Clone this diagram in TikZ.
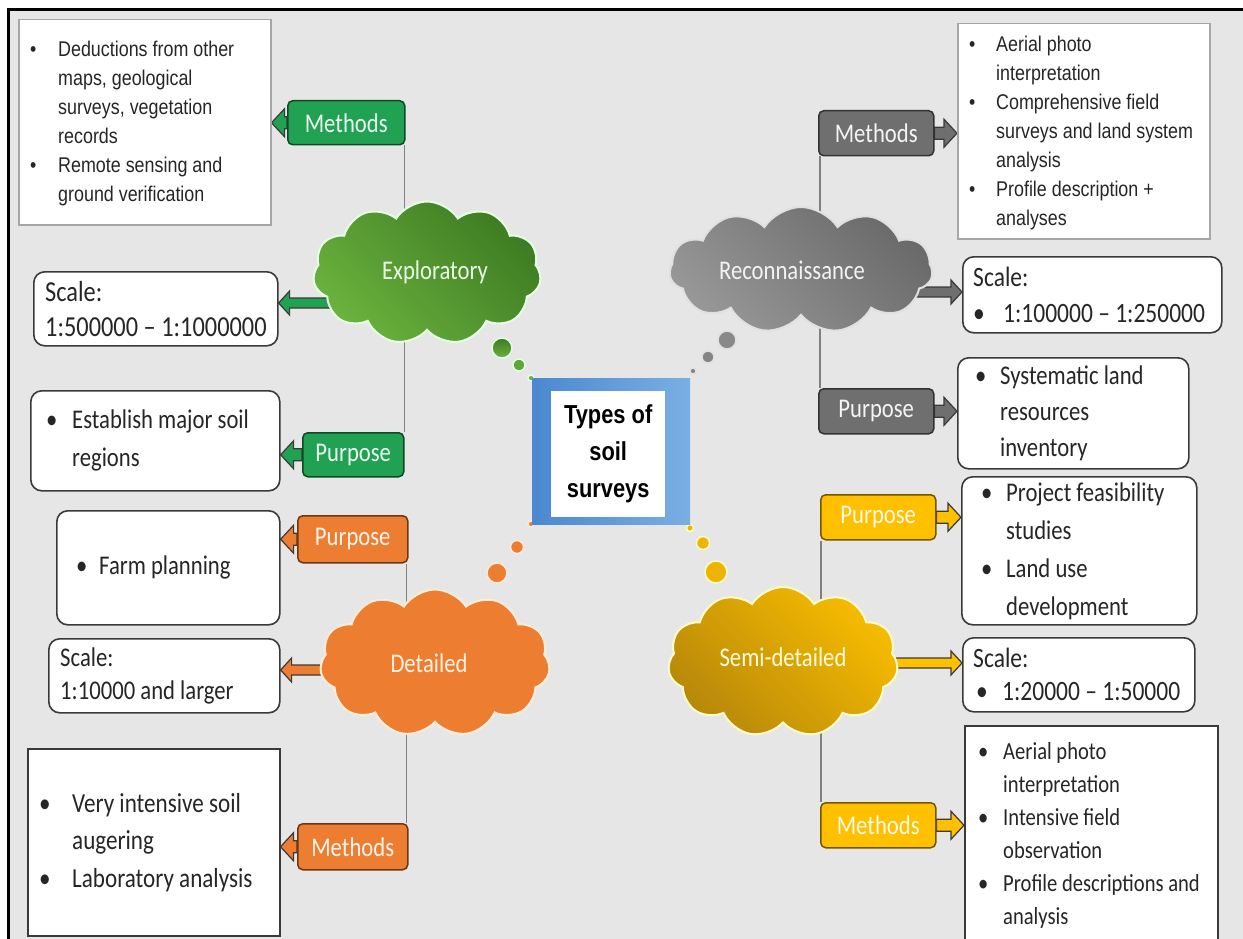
\documentclass[tikz,border=0pt]{standalone}
\usepackage{fontspec}
\setmainfont{Carlito}[FakeStretch=0.84]
\newfontfamily\arialf{Liberation Sans}[FakeStretch=0.84]
\usetikzlibrary{shapes.symbols,calc}
\pgfdeclarelayer{back}\pgfdeclarelayer{mid}\pgfsetlayers{back,mid,main}
\definecolor{bgc}{HTML}{E7E6E6}
\definecolor{gL}{HTML}{21A152}
\definecolor{gC1}{HTML}{3E7B22}
\definecolor{gC2}{HTML}{6AB23E}
\definecolor{grL}{HTML}{6F6F6F}
\definecolor{grC1}{HTML}{6A6A6A}
\definecolor{grC2}{HTML}{979797}
\definecolor{oL}{HTML}{ED7D31}
\definecolor{yL}{HTML}{FFC000}
\definecolor{yC1}{HTML}{F7BC00}
\definecolor{yC2}{HTML}{B8880A}
\definecolor{bl1}{HTML}{4A88CF}
\definecolor{bl2}{HTML}{7AAFE3}
\definecolor{lineg}{HTML}{808080}
\definecolor{bdr}{HTML}{3A3A3A}
\definecolor{sqg}{HTML}{A6A6A6}
\tikzset{
 rbox/.style={draw=bdr, line width=1.6pt, fill=white, rounded corners=11pt, anchor=north west, inner sep=0pt},
 sbox/.style={draw=#1, line width=1.5pt, fill=white, anchor=north west, inner sep=0pt},
 lbl/.style={draw=#1!45!black, fill=#1, line width=1.5pt, rounded corners=5pt, anchor=north west, inner sep=0pt, text=white!92!#1, font=\fontsize{27}{30}\selectfont},
 cld/.style={cloud, cloud puffs=11, cloud puff arc=115, cloud ignores aspect, draw=#1, line width=2pt, inner sep=0pt},
 bub/.style={draw=#1, line width=1.5pt},
 ctext/.style={font=\fontsize{27}{30}\selectfont, text=#1, inner sep=0pt},
 btext/.style={anchor=west, align=left, inner sep=0pt, text=black!85},
 vline/.style={draw=lineg, line width=1.3pt},
 arr/.style={draw=bdr, line width=1.2pt},
}
% left / right block arrows: start, target, colour, shaft half, head half, head length
\newcommand\larrow[6]{\draw[arr, fill=#3] let \p1=(#1), \p2=(#2) in
 (\x1,\y1+#4) -- (\x2+#6,\y1+#4) -- (\x2+#6,\y1+#5) -- (\x2,\y1) -- (\x2+#6,\y1-#5) -- (\x2+#6,\y1-#4) -- (\x1,\y1-#4) -- cycle;}
\newcommand\rarrow[6]{\draw[arr, fill=#3] let \p1=(#1), \p2=(#2) in
 (\x1,\y1+#4) -- (\x2-#6,\y1+#4) -- (\x2-#6,\y1+#5) -- (\x2,\y1) -- (\x2-#6,\y1-#5) -- (\x2-#6,\y1-#4) -- (\x1,\y1-#4) -- cycle;}
\newcommand\bl[1]{\makebox[#1][l]{•}}
\begin{document}
\begin{tikzpicture}[x=1pt,y=-1pt]
\useasboundingbox (0,0) rectangle (1243,939);
\begin{pgfonlayer}{back}
\fill[white] (0,0) rectangle (1243,939);
\fill[bgc] (8.5,9.5) rectangle (1243,939);
\draw[black, line width=3pt] (8.5,939) -- (8.5,9.5) -- (1243,9.5);
\end{pgfonlayer}

% ---------- boxes ----------
\node[sbox=sqg, minimum width=252pt, minimum height=205pt] (expM) at (18,19) {};
\node[btext, font=\arialf\fontsize{21.3}{29}\selectfont] (expMt) at ([xshift=12pt,yshift=-1.5pt]expM.west)
 {\bl{28pt}Deductions from other\\\hspace*{28pt}maps, geological\\\hspace*{28pt}surveys, vegetation\\\hspace*{28pt}records\\\bl{28pt}Remote sensing and\\\hspace*{28pt}ground verification};
\node[rbox, minimum width=244pt, minimum height=74pt] (expS) at (33,271) {};
\node[btext, font=\fontsize{29}{35}\selectfont] (expSt) at ([xshift=12pt]expS.west)
 {Scale:\\1:500000 – 1:1000000};
\node[rbox, minimum width=249pt, minimum height=100pt] (expP) at (30,390) {};
\node[btext, font=\fontsize{27}{38}\selectfont] (expPt) at ([xshift=16pt]expP.west)
 {\bl{26pt}Establish major soil\\\hspace*{26pt}regions};
\node[rbox, minimum width=223pt, minimum height=114pt] (detP) at (56,510) {};
\node[btext, font=\fontsize{27}{38}\selectfont] (detPt) at ([xshift=20pt]detP.west)
 {\bl{23pt}Farm planning};
\node[rbox, minimum width=231pt, minimum height=74pt] (detS) at (48,638) {};
\node[btext, font=\fontsize{27}{33}\selectfont] (detSt) at ([xshift=12pt]detS.west)
 {Scale:\\1:10000 and larger};
\node[sbox=bdr, minimum width=252pt, minimum height=187pt] (detM) at (27,748) {};
\node[btext, font=\fontsize{27.5}{37.5}\selectfont] (detMt) at ([xshift=12pt]detM.west)
 {\bl{33pt}Very intensive soil\\\hspace*{33pt}augering\\\bl{33pt}Laboratory analysis};

\node[sbox=sqg, minimum width=252pt, minimum height=215pt] (recM) at (957,23) {};
\node[btext, font=\arialf\fontsize{21.3}{29}\selectfont] (recMt) at ([xshift=12pt,yshift=-2pt]recM.west)
 {\bl{27pt}Aerial photo\\\hspace*{27pt}interpretation\\\bl{27pt}Comprehensive field\\\hspace*{27pt}surveys and land system\\\hspace*{27pt}analysis\\\bl{27pt}Profile description +\\\hspace*{27pt}analyses};
\node[rbox, minimum width=259pt, minimum height=76pt] (recS) at (962,256) {};
\node[btext, font=\fontsize{28}{36}\selectfont] (recSt) at ([xshift=11pt]recS.west)
 {Scale:\\\bl{30pt}1:100000 – 1:250000};
\node[rbox, minimum width=231pt, minimum height=111pt] (recP) at (957,357) {};
\node[btext, font=\fontsize{27}{36}\selectfont] (recPt) at ([xshift=18pt]recP.west)
 {\bl{25pt}Systematic land\\\hspace*{25pt}resources\\\hspace*{25pt}inventory};
\node[rbox, minimum width=235pt, minimum height=148pt] (semP) at (961,476) {};
\node[btext, font=\fontsize{27}{38}\selectfont] (semPt) at ([xshift=20pt]semP.west)
 {\bl{25pt}Project feasibility\\\hspace*{25pt}studies\\\bl{25pt}Land use\\\hspace*{25pt}development};
\node[rbox, minimum width=232pt, minimum height=74pt] (semS) at (962,637) {};
\node[btext, font=\fontsize{28}{33}\selectfont] (semSt) at ([xshift=11pt]semS.west)
 {Scale:\\\makebox[29pt][l]{\hspace{3pt}•}1:20000 – 1:50000};
\node[sbox=bdr, minimum width=253pt, minimum height=219pt] (semM) at (964,725) {};
\node[btext, font=\fontsize{24.5}{33}\selectfont] (semMt) at ([xshift=14pt]semM.west)
 {\bl{25pt}Aerial photo\\\hspace*{25pt}interpretation\\\bl{25pt}Intensive field\\\hspace*{25pt}observation\\\bl{25pt}Profile descriptions and\\\hspace*{25pt}analysis};

% ---------- labels ----------
\node[lbl=gL, minimum width=117pt, minimum height=44pt] (gM) at (287,100) {Methods};
\node[lbl=gL, minimum width=101pt, minimum height=44pt] (gP) at (302,432) {Purpose};
\node[lbl=oL, minimum width=110pt, minimum height=47pt] (oP) at (297,515) {Purpose};
\node[lbl=oL, minimum width=110pt, minimum height=46pt] (oM) at (297,823) {Methods};
\node[lbl=grL, minimum width=115pt, minimum height=45pt] (rM) at (818,110) {Methods};
\node[lbl=grL, minimum width=115pt, minimum height=45pt] (rP) at (818,388) {Purpose};
\node[lbl=yL, minimum width=115pt, minimum height=45pt] (yP) at (820,494) {Purpose};
\node[lbl=yL, minimum width=115pt, minimum height=45pt] (yM) at (820,802) {Methods};

% ---------- clouds ----------
\node[cld=green!10!white, minimum width=228pt, minimum height=143pt, top color=gC1, bottom color=gC2, shading angle=-45] (exp) at (427,273) {};
\node[ctext=green!8!white] (expT) at (435,272) {Exploratory};
\node[cld=black!12, minimum width=263pt, minimum height=126pt, top color=grC1, bottom color=grC2, shading angle=-45] (rec) at (801,270) {};
\node[ctext=black!5] (recT) at (792,270) {Reconnaissance};
\node[cld=orange!15!white, minimum width=230pt, minimum height=147pt, fill=oL] (det) at (435,663) {};
\node[ctext=orange!10!white] (detT) at (429,663) {Detailed};
\node[cld=yellow!20!white, minimum width=230pt, minimum height=150pt, top color=yC1, bottom color=yC2, shading angle=-45] (sem) at (783,662) {};
\node[ctext=yellow!15!white] (semT) at (783,657) {Semi-detailed};

% thought bubbles
\fill[top color=gC1, bottom color=gC2, bub=green!10!white] (502,348) circle (10);
\fill[gC2!80!gC1, bub=green!10!white] (519,365) circle (6);
\fill[gC2, bub=green!10!white] (531,378) circle (3);
\fill[grC2!70!grC1, bub=black!12] (727,340) circle (9);
\fill[grC2!60!grC1, bub=black!12] (708,357) circle (6);
\fill[grC2!60!grC1, bub=black!12] (693,371) circle (3);
\fill[oL, bub=orange!15!white] (531,524) circle (3);
\fill[oL, bub=orange!15!white] (517,547) circle (6.5);
\fill[oL, bub=orange!15!white] (497,573) circle (10);
\fill[yC1!85!yC2, bub=yellow!20!white] (690,528) circle (3.5);
\fill[yC1!85!yC2, bub=yellow!20!white] (703,543) circle (6.5);
\fill[yC1!85!yC2, bub=yellow!20!white] (716,572) circle (11);

% ---------- centre ----------
\node[left color=bl1, right color=bl2, minimum width=158pt, minimum height=146pt, anchor=north west, inner sep=0pt] (ctr) at (532,378) {};
\node[fill=white, minimum width=114pt, minimum height=126pt, anchor=north west, inner sep=0pt, align=center, font=\arialf\bfseries\fontsize{26}{37}\selectfont] (title) at (551,391) {Types of\\soil\\surveys};

% ---------- connectors ----------
\coordinate (expA) at (420,303);
\coordinate (recA) at (820,292);
\coordinate (detA) at (430,670);
\coordinate (semA) at (790,663);
\begin{pgfonlayer}{mid}
\draw[vline] ([xshift=-1pt]gM.south east) -- ([xshift=-1pt]gM.south east |- gP.north);
\draw[vline] ([xshift=-2pt]oP.south east) -- ([xshift=-2pt]oP.south east |- oM.north);
\draw[vline] ([xshift=2pt]rM.south west) -- ([xshift=2pt]rM.south west |- rP.north);
\draw[vline] ([xshift=1pt]yP.south west) -- ([xshift=1pt]yP.south west |- yM.north);
\larrow{gM.west}{expM.east}{gL}{6pt}{14pt}{13pt}
\larrow{gP.west}{expP.east}{gL}{6pt}{14pt}{13pt}
\larrow{oP.west}{detP.east}{oL}{6pt}{14pt}{13pt}
\larrow{oM.west}{detM.east}{oL}{6pt}{14pt}{13pt}
\rarrow{rM.east}{recM.west}{grL}{6pt}{14pt}{13pt}
\rarrow{rP.east}{recP.west}{grL}{6pt}{14pt}{13pt}
\rarrow{yP.east}{semP.west}{yL}{6pt}{14pt}{13pt}
\rarrow{yM.east}{semM.west}{yL}{6pt}{14pt}{13pt}
\larrow{expA}{expS.east}{gL}{5pt}{12pt}{11pt}
\rarrow{recA}{recS.west}{grL}{5pt}{12pt}{11pt}
\larrow{detA}{detS.east}{oL}{5pt}{12pt}{11pt}
\rarrow{semA}{semS.west}{yL}{5pt}{12pt}{11pt}
\end{pgfonlayer}
\end{tikzpicture}
\end{document}
